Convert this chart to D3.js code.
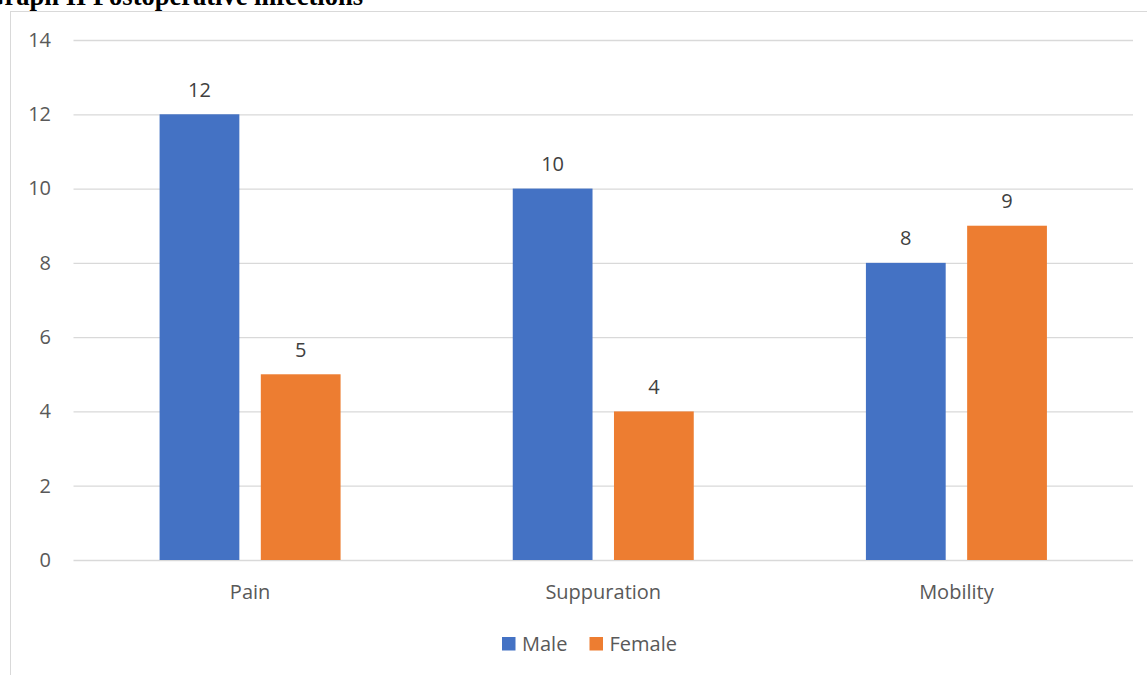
<!DOCTYPE html>
<html>
<head>
<meta charset="utf-8">
<script src="https://cdn.jsdelivr.net/npm/d3@7/dist/d3.min.js"></script>
<style>
  html, body { margin: 0; padding: 0; background: #fff; }
  svg { display: block; }
</style>
</head>
<body>
<svg id="chart" width="1147" height="675"></svg>
<script>
const categories = ["Pain", "Suppuration", "Mobility"];
const seriesNames = ["Male", "Female"];
const maleValues = [12, 10, 8];
const femaleValues = [5, 4, 9];
const yTicks = [0, 2, 4, 6, 8, 10, 12, 14];
const colors = ["#4472C4", "#ED7D31"];
const title = "Graph II Postoperative infections";

const svg = d3.select("#chart");
const plot = { left: 73.5, right: 1133, top: 40, bottom: 560 };
const font = "'Open Sans', 'Noto Sans', sans-serif";
const fs = 20;

// title (partially cut off at top, as in the reference)
svg.append("text")
  .attr("x", 363).attr("y", 5)
  .attr("text-anchor", "end")
  .attr("font-family", "'Liberation Serif', 'Times New Roman', serif")
  .attr("font-weight", "bold")
  .attr("font-size", 26.5)
  .attr("fill", "#000")
  .text(title);

// chart frame
svg.append("rect")
  .attr("x", 10.5).attr("y", 11.5)
  .attr("width", 1200).attr("height", 700)
  .attr("fill", "none").attr("stroke", "#d9d9d9").attr("stroke-width", 1);

const y = d3.scaleLinear().domain([0, 14]).range([plot.bottom, plot.top]);
const x0 = d3.scaleBand().domain(categories).range([plot.left, plot.right]).paddingInner(0).paddingOuter(0);
const x1 = d3.scaleBand().domain(seriesNames)
  .range([x0.bandwidth() / 2 - 90.5, x0.bandwidth() / 2 + 90.5])
  .paddingInner(0.212).paddingOuter(0);

// gridlines + y tick labels
const yAxis = d3.axisLeft(y).tickValues(yTicks).tickSize(-(plot.right - plot.left)).tickPadding(22.5);
const ga = svg.append("g").attr("transform", `translate(${plot.left},0)`).call(yAxis);
ga.select(".domain").remove();
ga.selectAll(".tick line").attr("stroke", "#d9d9d9").attr("stroke-width", 1.3);
ga.selectAll(".tick text")
  .attr("fill", "#595959").attr("font-family", font).attr("font-size", fs);

// x axis labels
const xAxis = d3.axisBottom(x0).tickSize(0).tickPadding(24.5);
const gx = svg.append("g").attr("transform", `translate(0,${plot.bottom})`).call(xAxis);
gx.select(".domain").remove();
gx.selectAll(".tick text")
  .attr("fill", "#595959").attr("font-family", font).attr("font-size", fs);

// bars
const data = categories.map((c, i) => ({ cat: c, vals: [
  { s: "Male", v: maleValues[i] }, { s: "Female", v: femaleValues[i] }] }));

const groups = svg.append("g").selectAll("g").data(data).join("g")
  .attr("transform", d => `translate(${x0(d.cat)},0)`);

groups.selectAll("rect").data(d => d.vals).join("rect")
  .attr("x", d => x1(d.s))
  .attr("width", x1.bandwidth())
  .attr("y", d => y(d.v))
  .attr("height", d => y(0) - y(d.v))
  .attr("fill", (d, i) => colors[i]);

groups.selectAll("text.lbl").data(d => d.vals).join("text")
  .attr("class", "lbl")
  .attr("x", d => x1(d.s) + x1.bandwidth() / 2)
  .attr("y", d => y(d.v) - 17.5)
  .attr("text-anchor", "middle")
  .attr("fill", "#404040").attr("font-family", font).attr("font-size", fs)
  .text(d => d.v);

// legend
const legendItems = [{ name: "Male", x: 502 }, { name: "Female", x: 589.5 }];
const lg = svg.append("g");
legendItems.forEach((it, i) => {
  lg.append("rect").attr("x", it.x).attr("y", 637).attr("width", 13.5).attr("height", 13.5).attr("fill", colors[i]);
  lg.append("text").attr("x", it.x + 20).attr("y", 651)
    .attr("fill", "#595959").attr("font-family", font).attr("font-size", fs)
    .text(it.name);
});
</script>
</body>
</html>
